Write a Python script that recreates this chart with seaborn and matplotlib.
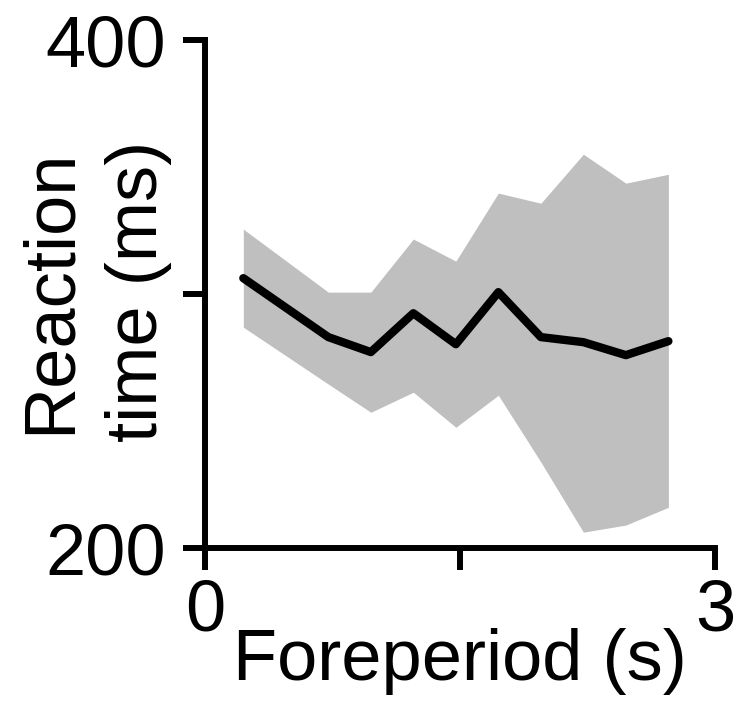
import matplotlib
matplotlib.use("Agg")
import matplotlib.pyplot as plt
import seaborn as sns
import numpy as np
import pandas as pd

# Data
foreperiod = [0.225, 0.725, 0.975, 1.225, 1.475, 1.725, 1.975, 2.225, 2.475, 2.725]
rt_mean = [306.3, 283.1, 277.2, 292.5, 280.3, 300.8, 283.1, 281.1, 276.0, 281.5]
rt_upper = [325.6, 300.8, 300.8, 321.7, 313.0, 339.8, 335.8, 355.1, 343.7, 347.2]
rt_lower = [287.0, 264.6, 253.5, 261.4, 247.6, 260.2, 233.9, 206.3, 209.1, 216.1]

x_ticks = [0, 1.5, 3]
x_ticklabels = ["0", "", "3"]
y_ticks = [200, 300, 400]
y_ticklabels = ["200", "", "400"]

sns.set_style("ticks")
plt.rcParams["font.family"] = ["Liberation Sans", "DejaVu Sans"]
plt.rcParams["text.color"] = "black"
plt.rcParams["axes.labelcolor"] = "black"
plt.rcParams["xtick.color"] = "black"
plt.rcParams["ytick.color"] = "black"

FS = 52

df = pd.DataFrame({"Foreperiod": foreperiod, "RT": rt_mean})

fig = plt.figure(figsize=(7.35, 7.01), dpi=100)
ax = fig.add_axes([0.279, 0.218, 0.694, 0.7247])

ax.fill_between(foreperiod, rt_lower, rt_upper, color="#bfbfbf", linewidth=0, zorder=1)
sns.lineplot(data=df, x="Foreperiod", y="RT", ax=ax, color="black", linewidth=6.0, zorder=2)

ax.set_xlim(0, 3)
ax.set_ylim(200, 400)
ax.set_xticks(x_ticks)
ax.set_xticklabels(x_ticklabels)
ax.set_yticks(y_ticks)
ax.set_yticklabels(y_ticklabels)

for side in ["top", "right"]:
    ax.spines[side].set_visible(False)
for side in ["left", "bottom"]:
    ax.spines[side].set_linewidth(4.3)
    ax.spines[side].set_color("black")

ax.tick_params(axis="both", which="major", length=16, width=4.3, colors="black",
               labelsize=FS, direction="out")
ax.tick_params(axis="y", pad=12)
ax.tick_params(axis="x", pad=6)

ax.set_xlabel("Foreperiod (s)", fontsize=FS, labelpad=-13)
ax.set_ylabel("Reaction\ntime (ms)", fontsize=FS, linespacing=1.4)
ax.yaxis.set_label_coords(-0.064, 0.505)

fig.savefig("out.png", dpi=100)
